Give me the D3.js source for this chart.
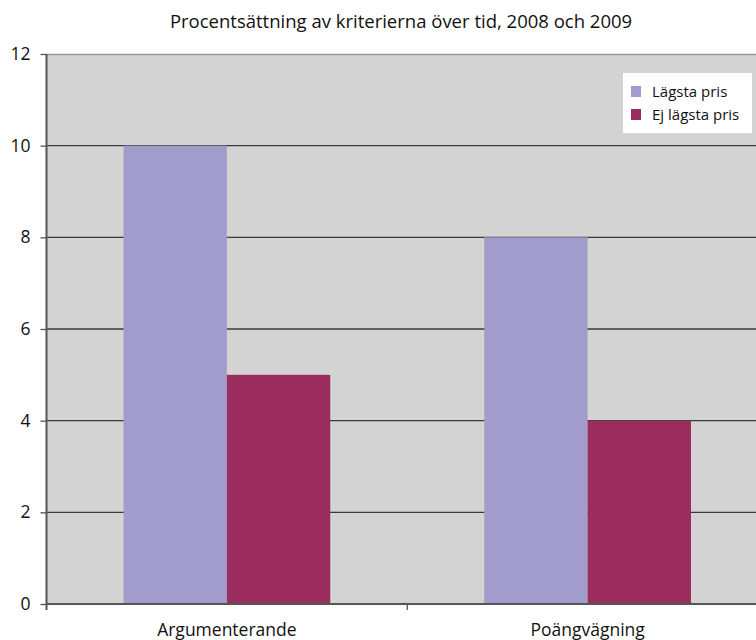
<!DOCTYPE html>
<html>
<head>
<meta charset="utf-8">
<script src="https://cdn.jsdelivr.net/npm/d3@7"></script>
<style>
  body { margin: 0; background: #fff; }
  svg text { font-family: "Open Sans", "Noto Sans", sans-serif; fill: #111; }
</style>
</head>
<body>
<svg id="chart" width="756" height="640"></svg>
<script>
// Chart data
const categories = ["Argumenterande", "Poängvägning"];
const seriesNames = ["Lägsta pris", "Ej lägsta pris"];
const lagstaPris = [10, 8];
const ejLagstaPris = [5, 4];
const yTicks = [0, 2, 4, 6, 8, 10, 12];
const title = "Procentsättning av kriterierna över tid, 2008 och 2009";

const colors = ["#a29ccc", "#9b2d5e"];
const seriesValues = [lagstaPris, ejLagstaPris];

const svg = d3.select("#chart");
const margin = { left: 46.5, top: 54, bottom: 604 };
const plotRight = 768;

const x0 = d3.scaleBand().domain(categories).range([margin.left, plotRight]);
const x1 = d3.scaleBand().domain(seriesNames).range([0, x0.bandwidth()]).paddingInner(0).paddingOuter(0.745);
const y = d3.scaleLinear().domain([0, 12]).range([margin.bottom, margin.top]);

// Plot background
svg.append("rect")
  .attr("x", margin.left).attr("y", y(12))
  .attr("width", plotRight - margin.left).attr("height", y(0) - y(12))
  .attr("fill", "#d3d3d3");

// Top border
svg.append("line")
  .attr("x1", margin.left).attr("x2", plotRight)
  .attr("y1", y(12) + 0.5).attr("y2", y(12) + 0.5)
  .attr("stroke", "#9a9a9a").attr("stroke-width", 1.5);

// Gridlines
svg.append("g").selectAll("line")
  .data(yTicks.filter(t => t > 0 && t < 12))
  .join("line")
  .attr("x1", margin.left).attr("x2", plotRight)
  .attr("y1", d => y(d)).attr("y2", d => y(d))
  .attr("stroke", "#3a3a3a").attr("stroke-width", 1.3);

// Bars
const groups = svg.append("g").selectAll("g")
  .data(categories)
  .join("g")
  .attr("transform", d => `translate(${x0(d)},0)`);

groups.selectAll("rect")
  .data((c, i) => seriesNames.map((s, j) => ({ s, v: seriesValues[j][i], j })))
  .join("rect")
  .attr("x", d => x1(d.s))
  .attr("width", x1.bandwidth())
  .attr("y", d => y(d.v))
  .attr("height", d => y(0) - y(d.v))
  .attr("fill", d => colors[d.j]);

// Y axis
const yAxis = d3.axisLeft(y).tickValues(yTicks).tickSize(6).tickPadding(10);
const yg = svg.append("g").attr("transform", `translate(${margin.left},0)`).call(yAxis);
yg.select(".domain").remove();
yg.selectAll(".tick line").attr("stroke", "#555").attr("stroke-width", 1.3);
yg.selectAll(".tick text").style("font-size", "17.5px").attr("fill", "#111");
svg.append("line")
  .attr("x1", margin.left).attr("x2", margin.left)
  .attr("y1", y(12)).attr("y2", y(0) + 6)
  .attr("stroke", "#555").attr("stroke-width", 2);

// X axis
svg.append("line")
  .attr("x1", margin.left).attr("x2", plotRight)
  .attr("y1", y(0)).attr("y2", y(0))
  .attr("stroke", "#555").attr("stroke-width", 2);
svg.append("g").selectAll("line")
  .data(categories.slice(1))
  .join("line")
  .attr("x1", d => x0(d)).attr("x2", d => x0(d))
  .attr("y1", y(0)).attr("y2", y(0) + 6)
  .attr("stroke", "#555").attr("stroke-width", 1.3);
svg.append("g").selectAll("text")
  .data(categories)
  .join("text")
  .attr("x", d => x0(d) + x0.bandwidth() / 2)
  .attr("y", 636)
  .attr("text-anchor", "middle")
  .style("font-size", "17.5px")
  .text(d => d);

// Title
svg.append("text")
  .attr("x", 401).attr("y", 28)
  .attr("text-anchor", "middle")
  .style("font-size", "18.5px")
  .text(title);

// Legend
const lg = svg.append("g").attr("transform", "translate(623,73)");
lg.append("rect").attr("width", 129).attr("height", 60).attr("fill", "#fff");
const items = lg.selectAll("g").data(seriesNames).join("g")
  .attr("transform", (d, i) => `translate(8,${13 + i * 23})`);
items.append("rect").attr("width", 10).attr("height", 11).attr("fill", (d, i) => colors[i]);
items.append("text").attr("x", 21).attr("y", 11).style("font-size", "15px").text(d => d);
</script>
</body>
</html>
